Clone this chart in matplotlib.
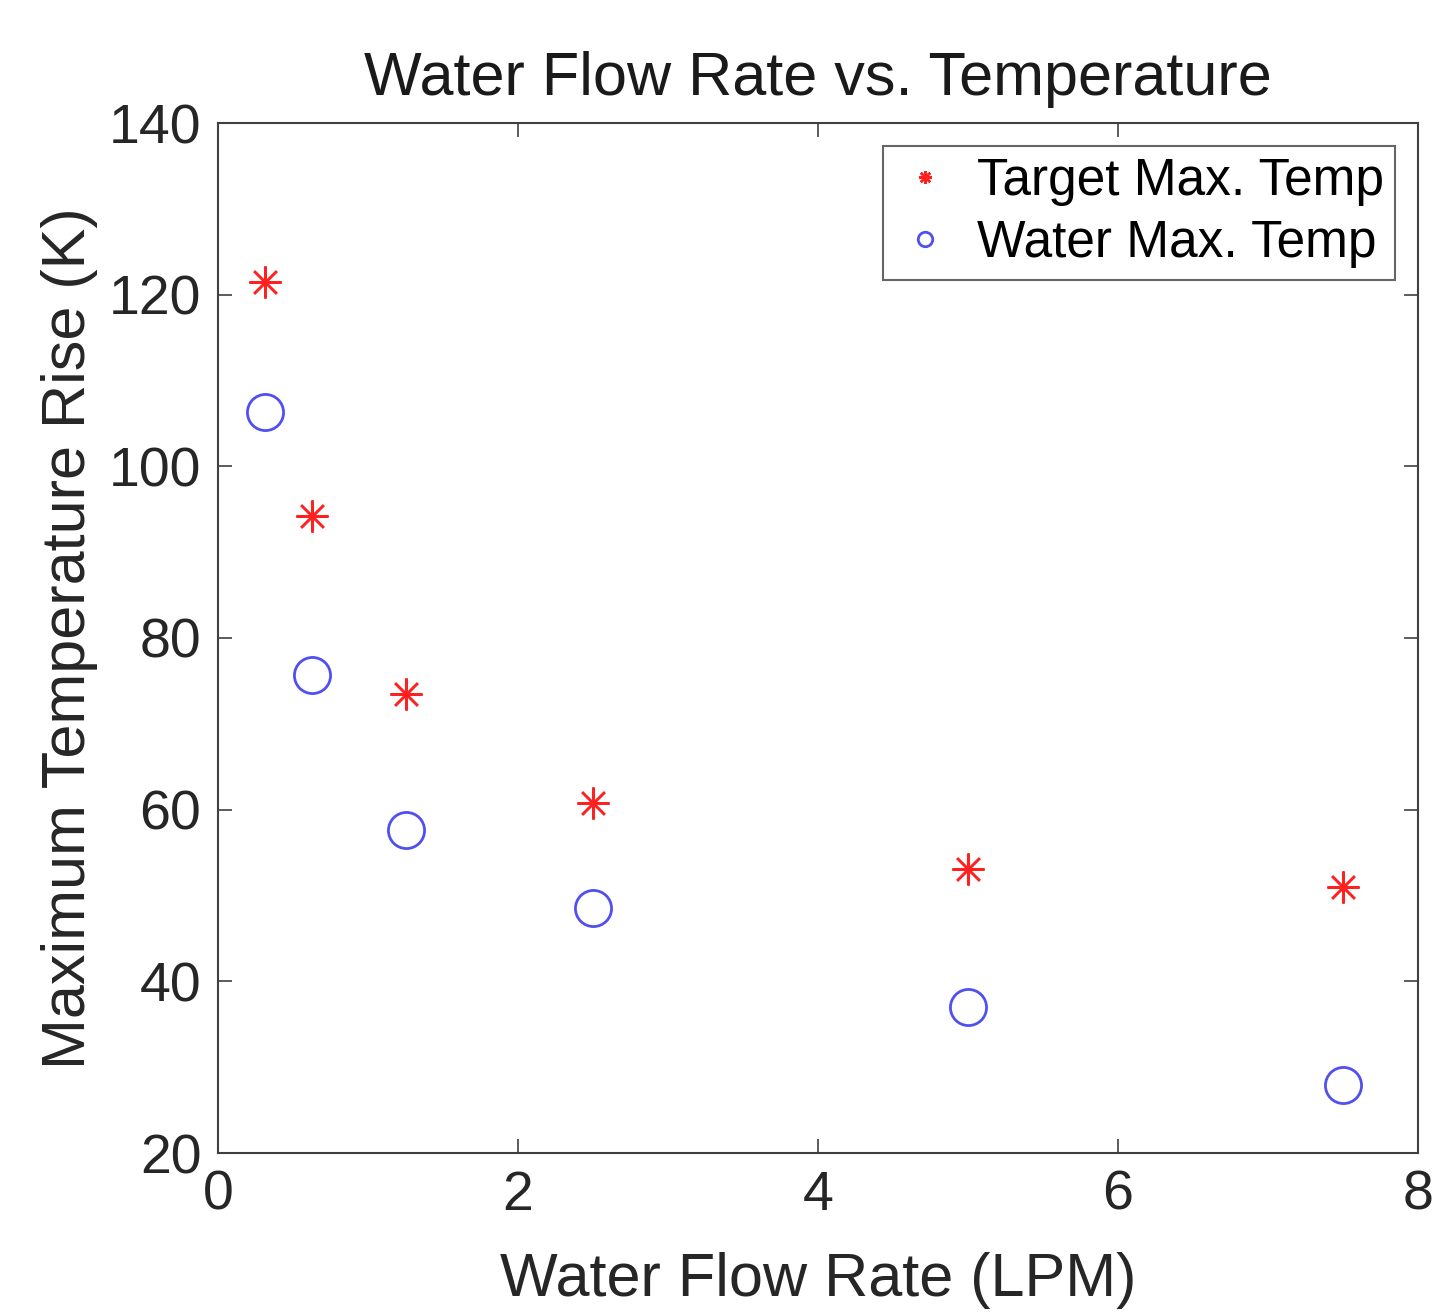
import matplotlib
matplotlib.use("Agg")
import matplotlib.pyplot as plt

flow_rate = [0.3125, 0.625, 1.25, 2.5, 5.0, 7.5]
target_max = [121.5, 94.2, 73.5, 60.8, 53.1, 51.0]
water_max = [106.3, 75.7, 57.6, 48.5, 37.0, 27.9]
xticks = [0, 2, 4, 6, 8]
yticks = [20, 40, 60, 80, 100, 120, 140]

plt.rcParams['font.family'] = ['Liberation Sans', 'DejaVu Sans']

fig = plt.figure(figsize=(14.38, 13.13), dpi=100)
ax = fig.add_axes([218/1438, 1 - 1153/1313, 1200/1438, 1030/1313])

axcol = '#404040'
ax.plot(flow_rate, target_max, linestyle='none', marker=(8, 2, 0), markersize=23,
        markeredgewidth=1.8, color='#ff2020', label='Target Max. Temp')
ax.plot(flow_rate, water_max, linestyle='none', marker='o', markersize=26,
        markeredgewidth=2.0, markerfacecolor='none', markeredgecolor='#5050f0',
        label='Water Max. Temp')

ax.set_xlim(0, 8)
ax.set_ylim(20, 140)
ax.set_xticks(xticks)
ax.set_yticks(yticks)
ax.tick_params(direction='in', length=10, width=1.2, colors=axcol, labelcolor='#262626',
               labelsize=40, top=True, right=True, pad=12)
for s in ax.spines.values():
    s.set_color(axcol)
    s.set_linewidth(1.5)

ax.set_title('Water Flow Rate vs. Temperature', fontsize=44, color='#1a1a1a', pad=20)
ax.set_xlabel('Water Flow Rate (LPM)', fontsize=44, color='#262626', labelpad=22)
ax.set_ylabel('Maximum Temperature Rise (K)', fontsize=44, color='#262626', labelpad=8)

leg = ax.legend(loc='upper right', fontsize=37, markerscale=0.4, frameon=True,
                fancybox=False, edgecolor=axcol, handletextpad=0.4,
                borderaxespad=0.45, handlelength=1.2, labelspacing=0.25,
                borderpad=0.22)
leg.get_frame().set_linewidth(1.5)

fig.savefig('out.png', dpi=100, facecolor='white')
